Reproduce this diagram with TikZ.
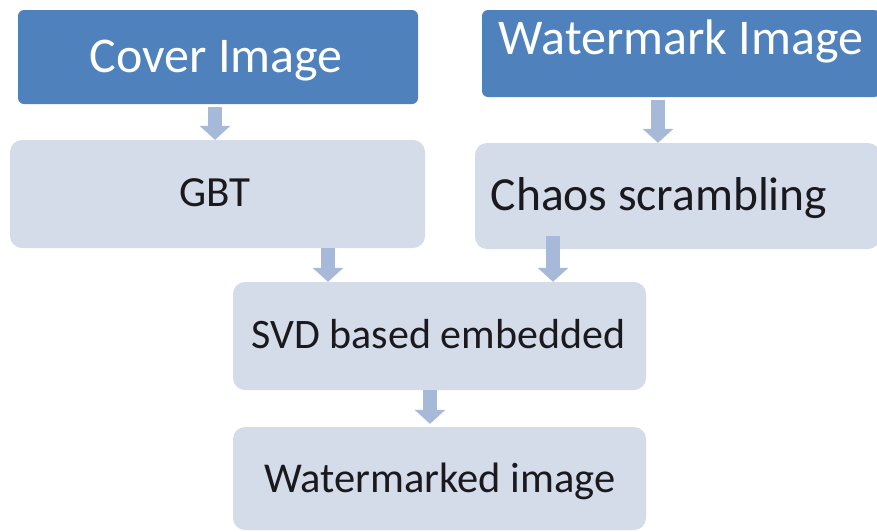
\documentclass[tikz,border=0pt]{standalone}
\usepackage{fontspec}
\setmainfont{Carlito}
\usetikzlibrary{arrows.meta,calc}
\definecolor{darkblue}{RGB}{79,129,189}
\definecolor{lightbox}{RGB}{212,219,233}
\definecolor{arrowc}{RGB}{167,185,217}
\definecolor{txtdark}{RGB}{25,25,30}
\tikzset{
  darkbox/.style={rectangle, fill=darkblue, rounded corners=6pt, inner sep=0pt},
  lightboxst/.style={rectangle, fill=lightbox, rounded corners=12pt, inner sep=0pt},
  hdtext/.style={text=white, font=\fontsize{50}{56}\selectfont, inner sep=0pt, text height=32pt, text depth=0pt},
  bdtext/.style={text=txtdark, inner sep=0pt, text depth=0pt},
  flow/.style={draw=arrowc, line width=14pt, -{Triangle[width=30pt,length=14pt]}}
}
\begin{document}
\begin{tikzpicture}[x=1pt,y=-1pt]
\useasboundingbox (0,0) rectangle (877,531);
\clip (0,0) rectangle (877,531);
\fill[white] (0,0) rectangle (877,531);
% boxes
\node[darkbox, minimum width=400pt, minimum height=94pt] (cover) at (218,57) {};
\node[darkbox, minimum width=398pt, minimum height=87pt] (wm) at (681,53.5) {};
\node[lightboxst, minimum width=415pt, minimum height=108pt] (gbt) at (217.5,194) {};
\node[lightboxst, minimum width=405pt, minimum height=106pt] (chaos) at (677.5,196) {};
\node[lightboxst, minimum width=413pt, minimum height=108pt] (svd) at (439.5,336) {};
\node[lightboxst, minimum width=413pt, minimum height=103pt] (wmed) at (439.5,478.5) {};
% texts
\node[hdtext] (covert) at (216,56) {Cover Image};
\node[hdtext] (wmt) at (681,38.5) {Watermark Image};
\node[bdtext, font=\fontsize{43}{49}\selectfont, text height=27.7pt] (gbtt) at (215,193) {GBT};
\node[bdtext, font=\fontsize{47.5}{53}\selectfont, text height=30.6pt] (chaost) at (659,195) {Chaos scrambling};
\node[bdtext, font=\fontsize{42}{48}\selectfont, text height=27pt] (svdt) at (438.5,334.5) {SVD based embedded};
\node[bdtext, font=\fontsize{42.5}{48}\selectfont, text height=27.4pt] (wmedt) at (440,479) {Watermarked image};
% arrow columns
\coordinate (c1) at (215,0);
\coordinate (c2) at (658,0);
\coordinate (c3) at (328,0);
\coordinate (c4) at (553,0);
\coordinate (c5) at (430,0);
% arrows
\draw[flow] ($(cover.south -| c1)+(0,3)$) -- (gbt.north -| c1);
\draw[flow] ($(wm.south -| c2)+(0,3)$) -- (chaos.north -| c2);
\draw[flow] (gbt.south -| c3) -- (svd.north -| c3);
\draw[flow] ($(chaos.south -| c4)+(0,-13)$) -- (svd.north -| c4);
\draw[flow] (svd.south -| c5) -- ($(wmed.north -| c5)+(0,-3)$);
\end{tikzpicture}
\end{document}
